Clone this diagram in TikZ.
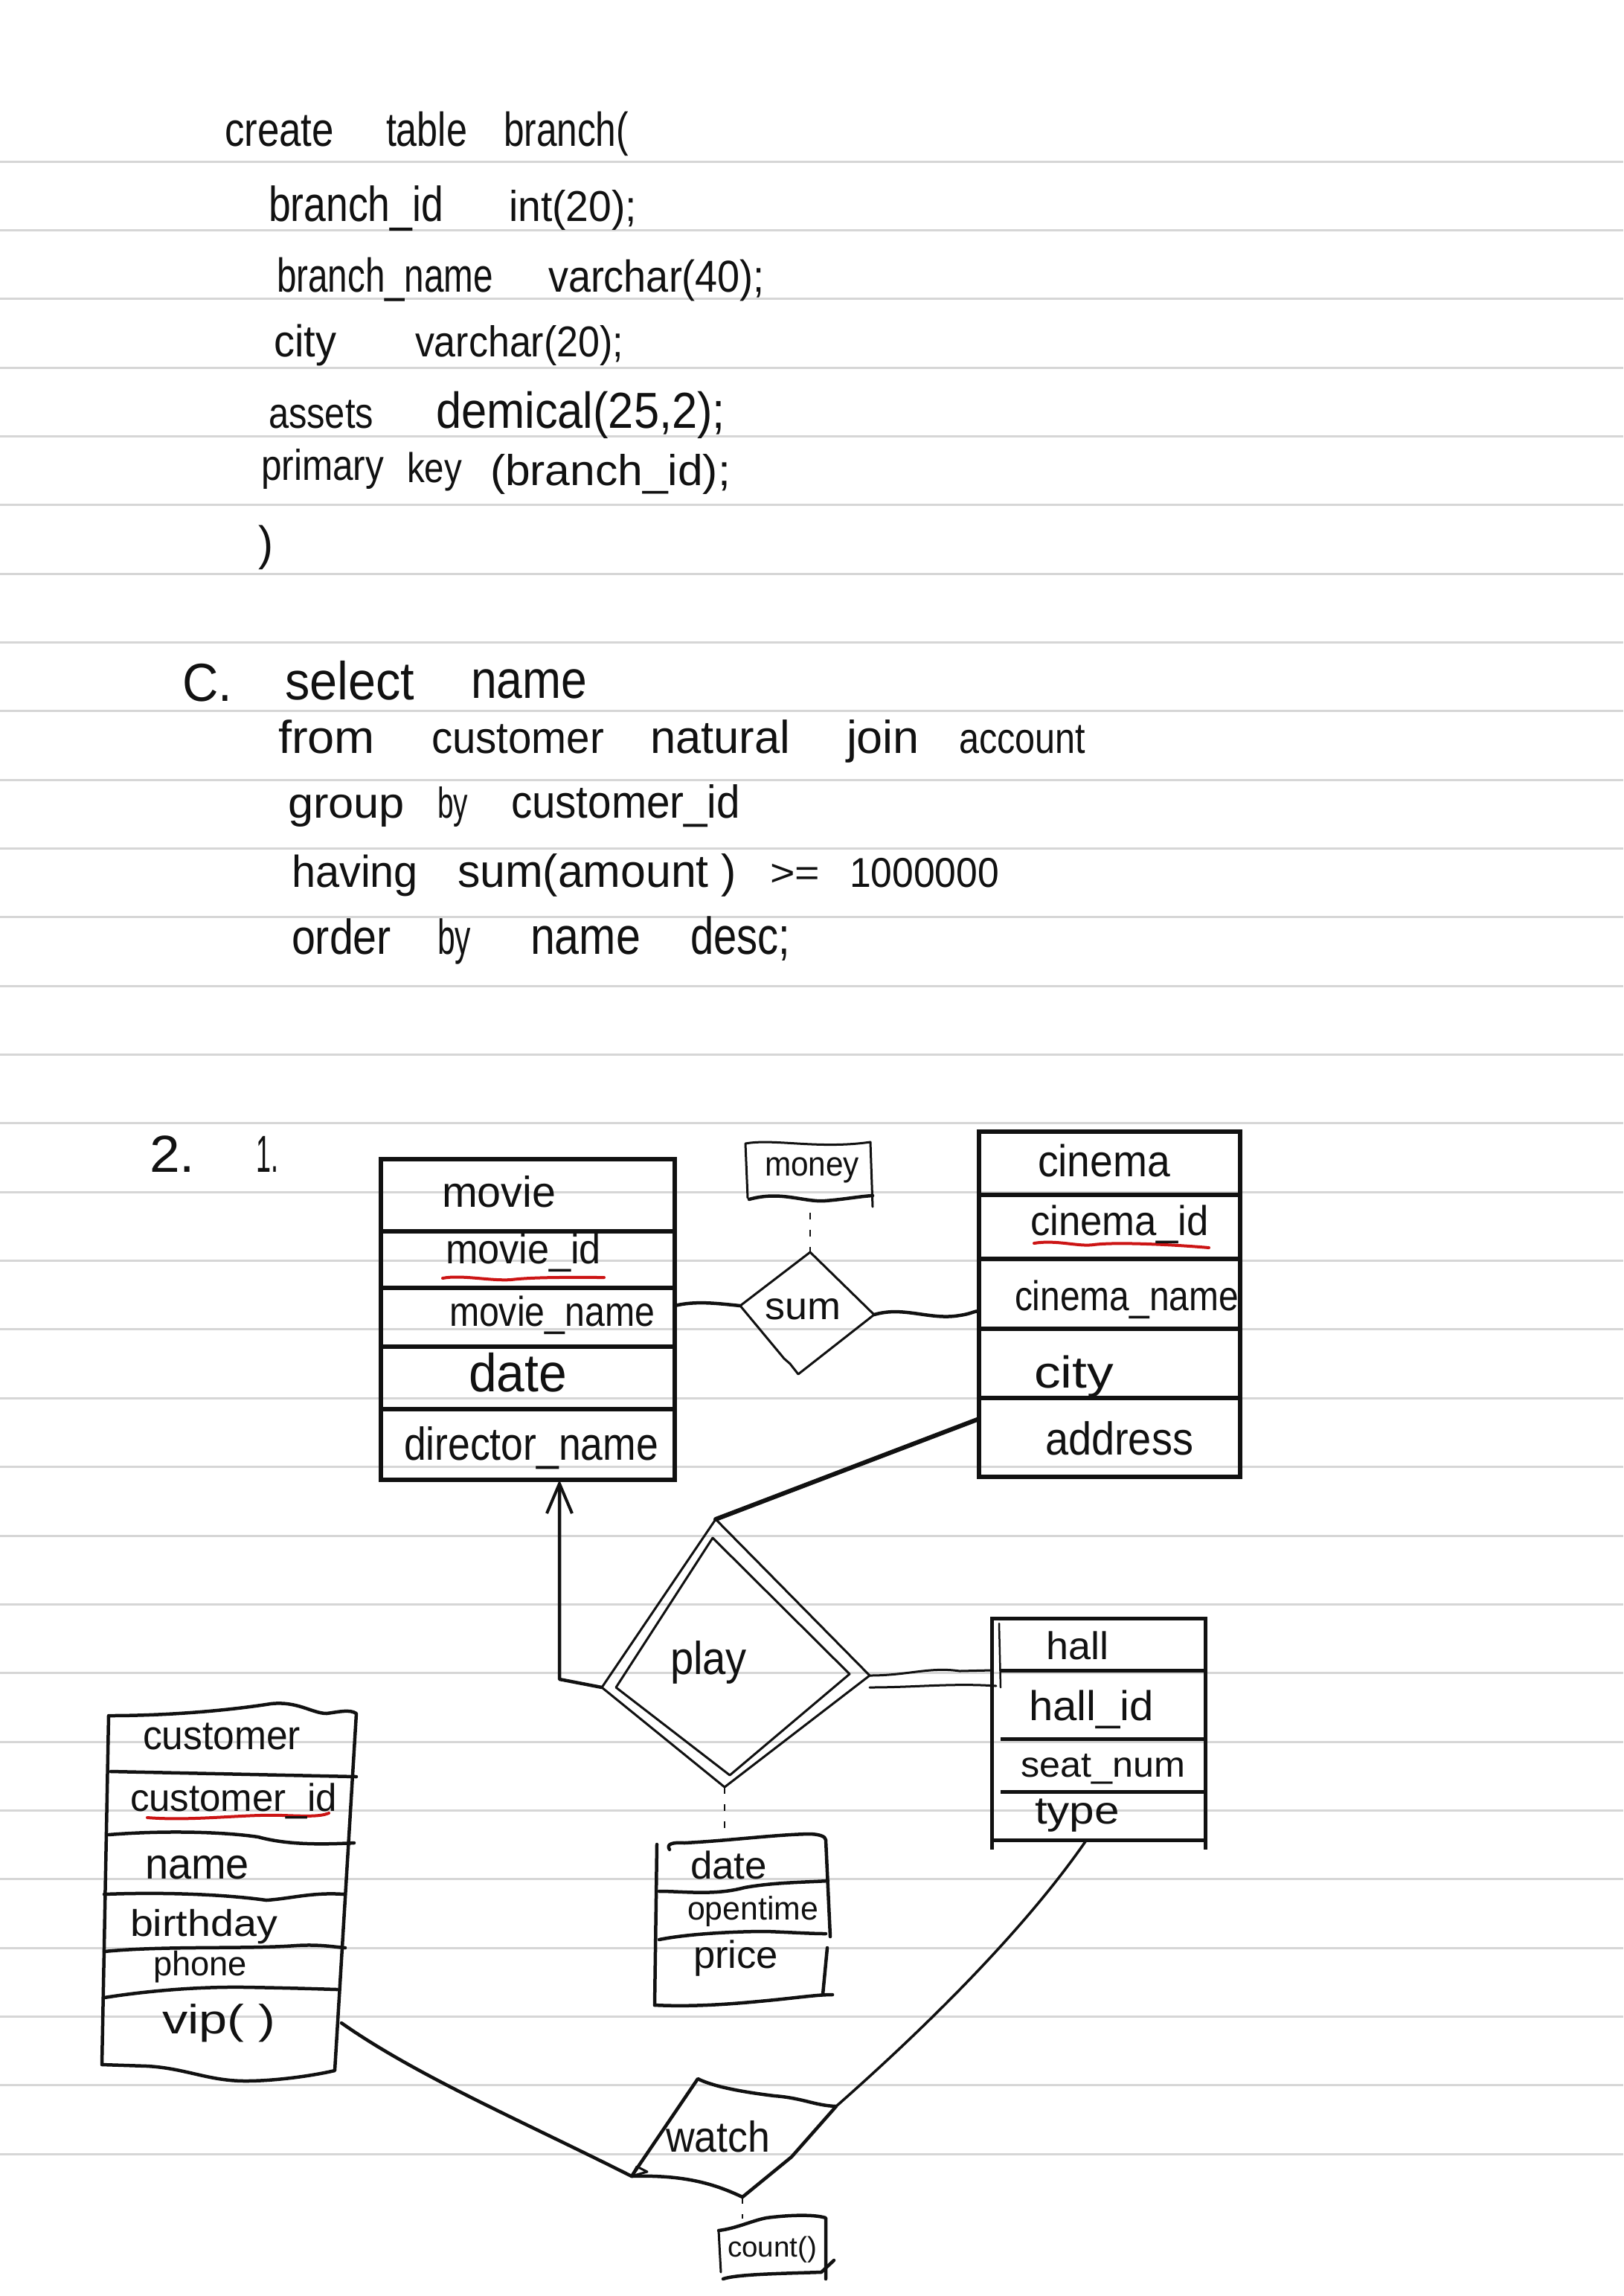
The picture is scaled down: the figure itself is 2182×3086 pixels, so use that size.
\documentclass[tikz,border=0pt]{standalone}
\usepackage{fontspec}
\setmainfont{Liberation Sans}
\usepackage{graphicx}
\usetikzlibrary{arrows.meta}
\definecolor{rulegray}{HTML}{D6D6D6}
\definecolor{ink}{HTML}{111111}
\definecolor{penred}{HTML}{CC1414}
\newcommand\hwt[3]{\fontsize{#2pt}{#2pt}\selectfont\resizebox{#1pt}{\height}{#3}}
\begin{document}
\begin{tikzpicture}[x=1pt,y=-1pt,
  ruleln/.style={draw=rulegray,line width=3pt},
  lbl/.style={anchor=base west,inner sep=0pt,outer sep=0pt,text=ink},
  tblbox/.style={draw=ink,line width=6pt,inner sep=0pt,outer sep=0pt},
  hidbox/.style={draw=none,inner sep=0pt,outer sep=0pt},
  rowln/.style={draw=ink,line width=6pt},
  penln/.style={draw=ink,line width=4.5pt,line cap=round,line join=round},
  thinln/.style={draw=ink,line width=3pt,line cap=round,line join=round},
  dotln/.style={draw=ink,line width=2.5pt,dash pattern=on 9pt off 14pt},
  redln/.style={draw=penred,line width=4pt,line cap=round},
]
\useasboundingbox (0,0) rectangle (2182,3086);
\fill[white] (0,0) rectangle (2182,3086);
\foreach \k in {0,...,29} \draw[ruleln] (0,{217+92.35*\k}) -- (2182,{217+92.35*\k});

% ---------- SQL block 1 ----------
\node[lbl] (a1) at (302,196) {\hwt{147}{64}{create}};
\node[lbl] (a2) at (519,196) {\hwt{109}{64}{table}};
\node[lbl] (a3) at (677,196) {\hwt{168}{64}{branch(}};
\node[lbl] (a4) at (361,297) {\hwt{235}{66}{branch\_id}};
\node[lbl] (a5) at (684,297) {\hwt{172}{58}{int(20);}};
\node[lbl] (a6) at (372,392) {\hwt{291}{64}{branch\_name}};
\node[lbl] (a7) at (737,392) {\hwt{291}{60}{varchar(40);}};
\node[lbl] (a8) at (368,479) {\hwt{84}{60}{city}};
\node[lbl] (a9) at (558,479) {\hwt{280}{58}{varchar(20);}};
\node[lbl] (a10) at (361,575) {\hwt{141}{58}{assets}};
\node[lbl] (a11) at (586,575) {\hwt{389}{68}{demical(25,2);}};
\node[lbl] (a12) at (351,645) {\hwt{165}{58}{primary}};
\node[lbl] (a13) at (547,648) {\hwt{74}{56}{key}};
\node[lbl] (a14) at (659,652) {\hwt{323}{58}{(branch\_id);}};
\node[lbl] (a15) at (347,752) {\hwt{20}{64}{)}};

% ---------- SQL block 2 ----------
\node[lbl] (b1) at (245,942) {\hwt{67}{72}{C.}};
\node[lbl] (b2) at (383,940) {\hwt{174}{72}{select}};
\node[lbl] (b3) at (633,938) {\hwt{156}{72}{name}};
\node[lbl] (b4) at (374,1012) {\hwt{130}{62}{from}};
\node[lbl] (b5) at (580,1012) {\hwt{232}{60}{customer}};
\node[lbl] (b6) at (874,1012) {\hwt{188}{62}{natural}};
\node[lbl] (b7) at (1138,1012) {\hwt{98}{62}{join}};
\node[lbl] (b8) at (1289,1012) {\hwt{170}{58}{account}};
\node[lbl] (b9) at (387,1099) {\hwt{157}{58}{group}};
\node[lbl] (b10) at (588,1099) {\hwt{41}{58}{by}};
\node[lbl] (b11) at (687,1099) {\hwt{308}{62}{customer\_id}};
\node[lbl] (b12) at (392,1192) {\hwt{170}{60}{having}};
\node[lbl] (b13) at (615,1192) {\hwt{375}{62}{sum(amount )}};
\node[lbl] (b14) at (1035,1190) {\hwt{67}{50}{>=}};
\node[lbl] (b15) at (1142,1192) {\hwt{201}{56}{1000000}};
\node[lbl] (b16) at (392,1282) {\hwt{134}{66}{order}};
\node[lbl] (b17) at (588,1282) {\hwt{45}{66}{by}};
\node[lbl] (b18) at (713,1282) {\hwt{148}{70}{name}};
\node[lbl] (b19) at (928,1282) {\hwt{134}{70}{desc;}};

% ---------- numbering ----------
\node[lbl] (n1) at (201,1575) {\hwt{61}{70}{2.}};
\node[lbl] (n2) at (344,1575) {\hwt{30}{70}{1.}};

% ---------- movie table ----------
\node[tblbox, minimum width=395pt, minimum height=431pt] (movie) at (709.5,1773.5) {};
\foreach \yy in {1655,1731,1810,1894} \draw[rowln] (512,\yy) -- (907,\yy);
\draw[redln] (595,1718) .. controls (620,1713) and (660,1722) .. (687,1720) .. controls (720,1716) and (780,1717) .. (812,1717);
\node[lbl] (m1) at (594,1622) {\hwt{153}{58}{movie}};
\node[lbl] (m2) at (599,1698) {\hwt{209}{56}{movie\_id}};
\node[lbl] (m3) at (604,1782) {\hwt{276}{56}{movie\_name}};
\node[lbl] (m4) at (630,1870) {\hwt{132}{72}{date}};
\node[lbl] (m5) at (543,1962) {\hwt{342}{62}{director\_name}};

% ---------- cinema table ----------
\node[tblbox, minimum width=351pt, minimum height=464pt] (cinema) at (1491.5,1753) {};
\foreach \yy in {1606,1692,1786,1879} \draw[rowln] (1316,\yy) -- (1667,\yy);
\draw[redln] (1390,1671) .. controls (1420,1666) and (1450,1676) .. (1470,1673) .. controls (1500,1669) and (1580,1673) .. (1625,1677);
\node[lbl] (c1) at (1395,1581) {\hwt{178}{60}{cinema}};
\node[lbl] (c2) at (1385,1660) {\hwt{240}{56}{cinema\_id}};
\node[lbl] (c3) at (1364,1761) {\hwt{301}{56}{cinema\_name}};
\node[lbl] (c4) at (1390,1865) {\hwt{107}{60}{city}};
\node[lbl] (c5) at (1405,1955) {\hwt{199}{62}{address}};

% ---------- money attribute and sum relationship ----------
\node[hidbox, minimum width=171pt, minimum height=77pt] (money) at (1087.5,1573.5) {};
\draw[thinln] (1002,1537) .. controls (1040,1530) and (1100,1545) .. (1170,1535) -- (1173,1622);
\draw[thinln] (1002,1537) -- (1005,1610);
\draw[penln] (1007,1612) .. controls (1050,1600) and (1080,1616) .. (1109,1614) .. controls (1135,1612) and (1155,1608) .. (1173,1607);
\node[lbl] (mo) at (1028,1580) {\hwt{127}{46}{money}};
\coordinate (sumT) at (1089,1683);
\coordinate (sumL) at (995,1755);
\coordinate (sumR) at (1175,1767);
\coordinate (sumB) at (1073,1847);
\coordinate (monB) at (1089,1630);
\draw[thinln] (sumT) -- (sumR) -- (sumB) -- (1062,1833) -- (1054,1826) -- (sumL) -- cycle;
\node[lbl] (su) at (1028,1773) {\hwt{102}{52}{sum}};
\draw[dotln] (monB) -- (sumT);
\draw[penln] (movie.east |- sumL) .. controls (935,1748) and (965,1752) .. (sumL);
\draw[penln] (sumR) .. controls (1215,1755) and (1250,1775) .. (1290,1768) .. controls (1305,1766) and (1310,1762) .. ([yshift=-9pt]cinema.west);

% ---------- play relationship (double diamond) ----------
\coordinate (playT) at (962,2042);
\coordinate (playR) at (1169,2252);
\coordinate (playB) at (974,2402);
\coordinate (playL) at (809,2268);
\coordinate (playR2) at (1169,2268);
\draw[thinln] (playT) -- (playR) -- (playB) -- (playL) -- cycle;
\draw[thinln] (958,2067) -- (1142,2250) -- (981,2386) -- (828,2268) -- cycle;
\node[lbl] (pl) at (901,2250) {\hwt{103}{62}{play}};
\draw[draw=ink,line width=6pt,line cap=round] ([yshift=78pt]cinema.south west) -- (playT);
\coordinate (bend) at (752,2257);
\draw[penln, -{Straight Barb[length=40pt,width=34pt,line width=4pt]}] (playL) -- (bend) -- (bend |- movie.south);

% ---------- hall table ----------
\node[tblbox, line width=5pt, minimum width=287pt, minimum height=298pt] (hall) at (1476.5,2324) {};
\foreach \yy in {2245,2337,2408} \draw[rowln,line width=5pt] (1345,\yy) -- (1620,\yy);
\draw[rowln,line width=5pt] (hall.south west) -- ++(0,13);
\draw[rowln,line width=5pt] (hall.south east) -- ++(0,13);
\draw[thinln,line width=2.5pt] (1343,2182) -- (1345,2268);
\draw[thinln] (playR) .. controls (1220,2252) and (1250,2240) .. (1290,2246) -- ([yshift=79pt]hall.west);
\draw[thinln] (playR2) .. controls (1230,2268) and (1280,2262) .. ([xshift=6pt,yshift=58pt]hall.west);
\node[lbl] (h1) at (1406,2230) {\hwt{84}{52}{hall}};
\node[lbl] (h2) at (1383,2312) {\hwt{168}{56}{hall\_id}};
\node[lbl] (h3) at (1372,2388) {\hwt{221}{48}{seat\_num}};
\node[lbl] (h4) at (1391,2451) {\hwt{114}{52}{type}};

% ---------- play attributes box ----------
\node[hidbox, minimum width=230pt, minimum height=227pt] (datebox) at (998,2583.5) {};
\draw[penln] (883,2479) -- (880,2695);
\draw[penln] (900,2486) .. controls (895,2478) and (905,2476) .. (920,2477) .. controls (980,2474) and (1040,2466) .. (1087,2465) .. controls (1100,2465) and (1110,2468) .. (1110,2473) -- (1116,2603);
\draw[penln] (1112,2618) -- (1106,2681);
\draw[penln] (880,2695) .. controls (940,2698) and (1000,2692) .. (1041,2688) .. controls (1080,2684) and (1100,2681) .. (1119,2681);
\draw[penln] (886,2542) .. controls (920,2542) and (960,2548) .. (1001,2537) .. controls (1040,2530) and (1080,2530) .. (1113,2528);
\draw[penln] (886,2607) .. controls (920,2600) and (980,2596) .. (1030,2596) .. controls (1060,2597) and (1090,2599) .. (1110,2599);
\draw[dotln] (playB) -- (playB |- datebox.north);
\node[lbl] (d1) at (928,2525) {\hwt{103}{52}{date}};
\node[lbl] (d2) at (924,2580) {\hwt{176}{44}{opentime}};
\node[lbl] (d3) at (932,2645) {\hwt{114}{52}{price}};

% ---------- customer table ----------
\node[hidbox, minimum width=342pt, minimum height=494pt] (cust) at (308,2546) {};
\draw[penln] (146,2306) .. controls (220,2306) and (300,2300) .. (364,2290) .. controls (400,2286) and (420,2303) .. (439,2303) .. controls (455,2301) and (470,2297) .. (479,2303) -- (450,2783) .. controls (420,2790) and (370,2797) .. (330,2797) .. controls (280,2797) and (250,2780) .. (198,2777) -- (137,2775) -- cycle;
\draw[penln] (149,2381) -- (479,2388);
\draw[penln] (146,2466) .. controls (220,2460) and (300,2462) .. (347,2469) .. controls (380,2478) and (420,2480) .. (476,2477);
\draw[penln] (140,2546) .. controls (220,2543) and (300,2546) .. (358,2554) .. controls (390,2552) and (420,2543) .. (462,2546);
\draw[penln] (140,2623) .. controls (220,2615) and (330,2620) .. (398,2615) .. controls (430,2613) and (450,2617) .. (464,2618);
\draw[penln] (140,2685) .. controls (190,2677) and (260,2670) .. (330,2671) .. controls (390,2672) and (420,2673) .. (453,2674);
\draw[redln] (198,2443) .. controls (260,2448) and (330,2438) .. (380,2440) .. controls (410,2441) and (430,2442) .. (442,2437);
\node[lbl] (u1) at (192,2351) {\hwt{212}{55}{customer}};
\node[lbl] (u2) at (175,2434) {\hwt{278}{52}{customer\_id}};
\node[lbl] (u3) at (195,2525) {\hwt{140}{58}{name}};
\node[lbl] (u4) at (175,2602) {\hwt{198}{50}{birthday}};
\node[lbl] (u5) at (206,2655) {\hwt{126}{46}{phone}};
\node[lbl] (u6) at (218,2733) {\hwt{152}{55}{vip( )}};

% ---------- watch relationship ----------
\coordinate (wL) at (849,2925);
\coordinate (wT) at (938,2794);
\coordinate (wR) at (1124,2831);
\coordinate (wB) at (998,2953);
\coordinate (custR) at (459,2719);
\draw[penln] (wT) .. controls (960,2805) and (1000,2812) .. (1041,2817) .. controls (1080,2820) and (1095,2830) .. (wR) -- (1064,2899) -- (wB) .. controls (960,2935) and (920,2923) .. (wL) -- cycle;
\draw[thinln] (wL) -- (856,2912) -- (870,2919) -- (852,2924);
\node[lbl] (wa) at (895,2892) {\hwt{140}{58}{watch}};
\draw[penln] (custR) .. controls (560,2790) and (700,2850) .. (wL);
\draw[thinln,line width=3.5pt] ([xshift=-16pt]hall.south) .. controls (1380,2590) and (1250,2720) .. (wR);

% ---------- count() attribute ----------
\node[hidbox, minimum width=147pt, minimum height=80pt] (count) at (1039.5,3022) {};
\draw[thinln] (966,2998) -- (969,3054);
\draw[penln] (966,2998) .. controls (990,2995) and (1010,2985) .. (1030,2981) .. controls (1060,2977) and (1095,2976) .. (1110,2981) -- (1110,3063);
\draw[penln] (972,3063) .. controls (990,3057) and (1040,3056) .. (1104,3054) -- (1121,3038);
\draw[dotln] (wB) -- (wB |- count.north);
\node[lbl] (co) at (978,3033) {\hwt{120}{38}{count()}};
\end{tikzpicture}
\end{document}
